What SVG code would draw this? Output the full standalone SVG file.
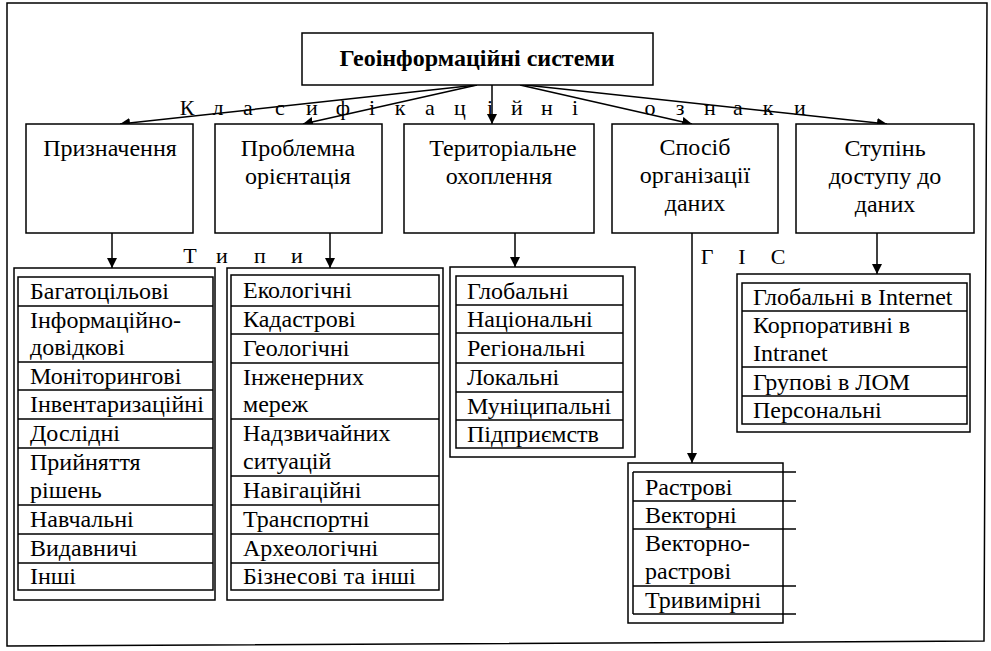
<svg xmlns="http://www.w3.org/2000/svg" width="991" height="651" viewBox="0 0 991 651">
<defs>
<marker id="ah" viewBox="0 0 10 10" refX="10" refY="5" markerWidth="10" markerHeight="10" markerUnits="userSpaceOnUse" orient="auto">
<path d="M0,0 L10,5 L0,10 z" fill="#000"/>
</marker>
<style>
.b{fill:#fff;stroke:#000;stroke-width:1.5}
.n{fill:none;stroke:#000;stroke-width:1.5}
.t{font-family:"Liberation Serif","Times New Roman",serif;font-size:24px;fill:#000}
.c{text-anchor:middle}
.lbl{font-family:"Liberation Serif","Times New Roman",serif;font-size:22px;fill:#000;text-anchor:middle}
.cn{stroke:#000;stroke-width:1.5;fill:none;marker-end:url(#ah)}
</style>
</defs>
<rect width="991" height="651" fill="#fff"/>
<path id="frame" class="n" d="M7,3 L987,3 L984,641 L7,646 Z"/>

<g id="connectors">
<line class="cn" x1="477" y1="85" x2="120" y2="124"/>
<line class="cn" x1="477" y1="85" x2="303" y2="124"/>
<line class="cn" x1="492" y1="85" x2="492" y2="124"/>
<line class="cn" x1="520" y1="85" x2="692" y2="124"/>
<line class="cn" x1="525" y1="85" x2="887" y2="124"/>
<line class="cn" x1="112" y1="233" x2="112" y2="268"/>
<line class="cn" x1="330" y1="233" x2="330" y2="268"/>
<line class="cn" x1="515" y1="233" x2="515" y2="267"/>
<line class="cn" x1="692" y1="233" x2="692" y2="463"/>
<line class="cn" x1="877" y1="233" x2="877" y2="274"/>
</g>

<g id="labels">
<text class="lbl" x="187 218 248 280 312 343 372 400 430 460 490 517 547 575 612 650 680 710 738 768 800" y="115">Класифікаційні ознаки</text>
<text class="lbl" x="190 222 260 297" y="263">Типи</text>
<text class="lbl" x="707 742 778" y="264">ГІС</text>
</g>

<g id="root">
<rect class="b" x="302" y="33" width="351" height="52"/>
<text class="t c" x="477" y="66" font-weight="bold" font-size="24.5">Геоінформаційні системи</text>
</g>

<g id="purpose">
<rect class="b" x="26" y="124" width="167" height="109"/>
<text class="t c" x="110" y="156">Призначення</text>
</g>
<g id="problem">
<rect class="b" x="215" y="124" width="167" height="109"/>
<text class="t c" x="298" y="156">Проблемна</text>
<text class="t c" x="298" y="184">орієнтація</text>
</g>
<g id="territory">
<rect class="b" x="404" y="124" width="190" height="109"/>
<text class="t c" x="503" y="156">Територіальне</text>
<text class="t c" x="499" y="184">охоплення</text>
</g>
<g id="dataorg">
<rect class="b" x="612" y="124" width="166" height="109"/>
<text class="t c" x="695" y="155">Спосіб</text>
<text class="t c" x="695" y="183">організації</text>
<text class="t c" x="695" y="211">даних</text>
</g>
<g id="access">
<rect class="b" x="796" y="124" width="178" height="109"/>
<text class="t c" x="885" y="156">Ступінь</text>
<text class="t c" x="885" y="184">доступу до</text>
<text class="t c" x="885" y="212">даних</text>
</g>

<g id="list-purpose">
<rect class="b" x="14" y="268" width="201" height="332"/>
<rect class="n" x="18" y="277" width="195" height="313"/>
<path class="n" d="M18,306H213M18,362H213M18,390H213M18,419H213M18,448H213M18,505H213M18,534H213M18,563H213"/>
<text class="t" x="30" y="299">Багатоцільові</text>
<text class="t" x="30" y="328">Інформаційно-</text>
<text class="t" x="30" y="355">довідкові</text>
<text class="t" x="30" y="384">Моніторингові</text>
<text class="t" x="30" y="412">Інвентаризаційні</text>
<text class="t" x="30" y="441">Дослідні</text>
<text class="t" x="30" y="470">Прийняття</text>
<text class="t" x="30" y="498">рішень</text>
<text class="t" x="30" y="527">Навчальні</text>
<text class="t" x="30" y="556">Видавничі</text>
<text class="t" x="30" y="584">Інші</text>
</g>

<g id="list-problem">
<rect class="b" x="227" y="268" width="216" height="332"/>
<rect class="n" x="231" y="275" width="208" height="315"/>
<path class="n" d="M231,306H439M231,334H439M231,363H439M231,419H439M231,476H439M231,505H439M231,534H439M231,563H439"/>
<text class="t" x="243" y="298">Екологічні</text>
<text class="t" x="243" y="327">Кадастрові</text>
<text class="t" x="243" y="356">Геологічні</text>
<text class="t" x="243" y="385">Інженерних</text>
<text class="t" x="243" y="412">мереж</text>
<text class="t" x="243" y="441">Надзвичайних</text>
<text class="t" x="243" y="469">ситуацій</text>
<text class="t" x="243" y="498">Навігаційні</text>
<text class="t" x="243" y="527">Транспортні</text>
<text class="t" x="243" y="556">Археологічні</text>
<text class="t" x="243" y="584">Бізнесові та інші</text>
</g>

<g id="list-territory">
<rect class="b" x="450" y="267" width="185" height="190"/>
<rect class="n" x="456" y="276" width="167" height="172"/>
<path class="n" d="M456,305H623M456,333H623M456,363H623M456,392H623M456,420H623"/>
<text class="t" x="467" y="299">Глобальні</text>
<text class="t" x="467" y="327">Національні</text>
<text class="t" x="467" y="356">Регіональні</text>
<text class="t" x="467" y="385">Локальні</text>
<text class="t" x="467" y="414">Муніципальні</text>
<text class="t" x="467" y="442">Підприємств</text>
</g>

<g id="list-dataorg">
<rect class="b" x="628" y="463" width="155" height="160"/>
<path class="n" d="M633,472V614M633,472H796M633,501H796M633,529H796M633,586H796M633,614H796"/>
<text class="t" x="645" y="495">Растрові</text>
<text class="t" x="645" y="523">Векторні</text>
<text class="t" x="645" y="551">Векторно-</text>
<text class="t" x="645" y="579">растрові</text>
<text class="t" x="645" y="608">Тривимірні</text>
</g>

<g id="list-access">
<rect class="b" x="737" y="274" width="233" height="158"/>
<rect class="n" x="742" y="283" width="225" height="141"/>
<path class="n" d="M742,311H967M742,367H967M742,396H967"/>
<text class="t" x="753" y="305">Глобальні в Internet</text>
<text class="t" x="753" y="333">Корпоративні в</text>
<text class="t" x="753" y="361">Intranet</text>
<text class="t" x="753" y="390">Групові в ЛОМ</text>
<text class="t" x="753" y="418">Персональні</text>
</g>
</svg>
